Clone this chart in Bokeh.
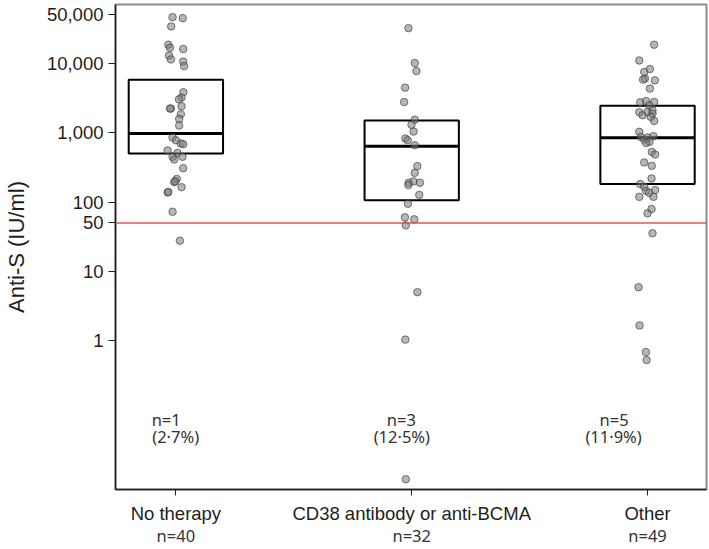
from bokeh.plotting import figure
from bokeh.models import (Range1d, FixedTicker, NumeralTickFormatter, LinearAxis,
                          Span, ColumnDataSource)
from bokeh.core.properties import value
from bokeh.embed import file_html
from bokeh.resources import INLINE

# ---------------- data ----------------
categories = ["No therapy", "CD38 antibody or anti-BCMA", "Other"]
group_n = ["n=40", "n=32", "n=49"]
below_n = ["n=1", "n=3", "n=5"]
below_pct = ["(2·7%)", "(12·5%)", "(11·9%)"]

y_ticks = [1, 10, 50, 100, 1000, 10000, 50000]
threshold = 50

q1 = [500, 106, 182]
median = [975, 640, 850]
q3 = [5800, 1500, 2450]

no_therapy = [46400, 44900, 34100, 18600, 16800, 16100, 13000, 11400, 10600, 9140,
              3830, 3210, 3030, 2230, 2230, 2410, 1850, 1580, 1270, 853,
              780, 700, 683, 555, 512, 449, 411, 449, 308, 216,
              194, 200, 164, 138, 140, 72.5, 27.7]
no_therapy_jit = [-0.014, 0.029, -0.020, -0.032, -0.025, 0.031, -0.029, -0.021, 0.031, 0.035,
                  0.032, 0.024, 0.013, -0.021, -0.025, 0.024, 0.021, 0.014, 0.014, -0.014,
                  0.0, 0.021, 0.031, -0.035, 0.007, -0.014, -0.007, 0.028, 0.031, 0.004,
                  -0.007, -0.003, 0.024, -0.035, -0.032, -0.014, 0.017]

cd38 = [32200, 10100, 7750, 4470, 2770, 1540, 1300, 1040, 826, 780,
        661, 330, 264, 190, 199, 190, 176, 127, 94.6, 60.2,
        56.4, 46.2, 5.02, 1.04, 0.0101]
cd38_jit = [-0.014, 0.013, 0.020, -0.028, -0.032, 0.013, -0.001, 0.008, -0.027, -0.017,
            0.013, 0.024, 0.013, -0.013, 0.007, 0.035, -0.014, 0.032, -0.016, -0.029,
            0.011, -0.025, 0.024, -0.027, -0.025]

other = [18600, 11000, 8280, 7500, 6030, 5830, 5690, 4330, 2750, 2870,
         2780, 2490, 1970, 1790, 1990, 2110, 1890, 1690, 1480, 1030,
         870, 798, 853, 891, 738, 713, 529, 486, 373, 333,
         219, 182, 166, 145, 136, 149, 119, 119, 79.3, 68.8,
         35.5, 5.93, 1.66, 0.688, 0.528]
other_jit = [0.028, -0.035, 0.010, -0.014, -0.011, -0.019, 0.031, 0.010, -0.031, -0.006,
             0.028, 0.007, -0.035, -0.021, 0.0, 0.021, 0.021, 0.014, 0.028, -0.035,
             -0.028, -0.014, 0.0, 0.025, 0.008, -0.006, 0.018, 0.032, -0.014, 0.018,
             0.017, -0.031, -0.014, -0.006, 0.007, 0.032, 0.025, -0.035, 0.017, 0.0,
             0.021, -0.038, -0.034, -0.007, -0.004]

# ---------------- figure ----------------
p = figure(width=709, height=549, y_axis_type="log",
           x_range=Range1d(-0.256, 2.25), y_range=Range1d(0.00718, 70600),
           output_backend="svg", toolbar_location=None,
           min_border_left=111, min_border_right=3, min_border_top=4, min_border_bottom=59)
p.grid.visible = False
p.background_fill_color = "white"
p.outline_line_color = "#8c8c8c"
p.outline_line_width = 2

TXT = "#1e1e1e"
# y axis
ya = p.yaxis[0]
ya.ticker = FixedTicker(ticks=y_ticks)
ya.formatter = NumeralTickFormatter(format="0,0")
ya.axis_line_color = TXT
ya.axis_line_width = 1.5
ya.major_tick_line_color = TXT
ya.major_tick_out = 7
ya.major_tick_in = 0
ya.minor_tick_line_color = None
ya.major_label_standoff = 5
ya.major_label_text_font = "Liberation Sans"
ya.major_label_text_font_size = "18.5px"
ya.major_label_text_color = TXT
ya.axis_label = "Anti-S (IU/ml)"
ya.axis_label_text_font = "Liberation Sans"
ya.axis_label_text_font_size = "22px"
ya.axis_label_text_font_style = "normal"
ya.axis_label_text_color = TXT
ya.axis_label_standoff = 15

# x axis
idx = list(range(len(categories)))
xa = p.xaxis[0]
xa.ticker = FixedTicker(ticks=idx)
xa.major_label_overrides = {i: c for i, c in zip(idx, categories)}
xa.axis_line_color = TXT
xa.axis_line_width = 1.5
xa.major_tick_line_color = TXT
xa.major_tick_out = 6
xa.major_tick_in = 0
xa.minor_tick_line_color = None
xa.major_label_standoff = 7
xa.major_label_text_font = "Liberation Sans"
xa.major_label_text_font_size = "18.5px"
xa.major_label_text_color = TXT

xa2 = LinearAxis(ticker=FixedTicker(ticks=idx),
                 major_label_overrides={i: n for i, n in zip(idx, group_n)})
xa2.axis_line_color = None
xa2.major_tick_line_color = None
xa2.minor_tick_line_color = None
xa2.major_tick_out = 0
xa2.major_tick_in = 0
xa2.major_label_standoff = -3
xa2.major_label_text_font = "Noto Sans"
xa2.major_label_text_font_size = "16.5px"
xa2.major_label_text_color = "#333333"
p.add_layout(xa2, "below")

# threshold line
p.add_layout(Span(location=threshold, dimension="width", line_color="#d9434e",
                  line_width=1.5, line_alpha=0.9))

# boxes
hw = 0.2
p.quad(left=[i - hw for i in idx], right=[i + hw for i in idx], bottom=q1, top=q3,
       fill_color=None, line_color="black", line_width=2)
p.segment(x0=[i - hw for i in idx], x1=[i + hw for i in idx], y0=median, y1=median,
          line_color="black", line_width=3)

# points
xs, ys = [], []
for i, (vals, jit) in enumerate([(no_therapy, no_therapy_jit), (cd38, cd38_jit), (other, other_jit)]):
    xs += [i + j for j in jit]
    ys += vals
src = ColumnDataSource(dict(x=xs, y=ys))
p.scatter("x", "y", source=src, size=7.5, fill_color="#7a7a7a", fill_alpha=0.55,
          line_color="#3a3a3a", line_alpha=0.65, line_width=1)

# annotations (count and percentage below threshold)
line1_y = 10 ** -1.137
line2_y = 10 ** -1.381
n_dx = [-0.041, -0.044, -0.142]
pct_dx = [-0.001, -0.042, -0.144]
p.text(x=[i + d for i, d in zip(idx, n_dx)], y=[line1_y] * 3, text=below_n,
       text_font=value("Noto Sans"), text_font_size="16.5px", text_color="#333333",
       text_align="center", text_baseline="middle")
p.text(x=[i + d for i, d in zip(idx, pct_dx)], y=[line2_y] * 3, text=below_pct,
       text_font=value("Noto Sans"), text_font_size="16.5px", text_color="#333333",
       text_align="center", text_baseline="middle")

open("out.html", "w").write(file_html(p, INLINE))
